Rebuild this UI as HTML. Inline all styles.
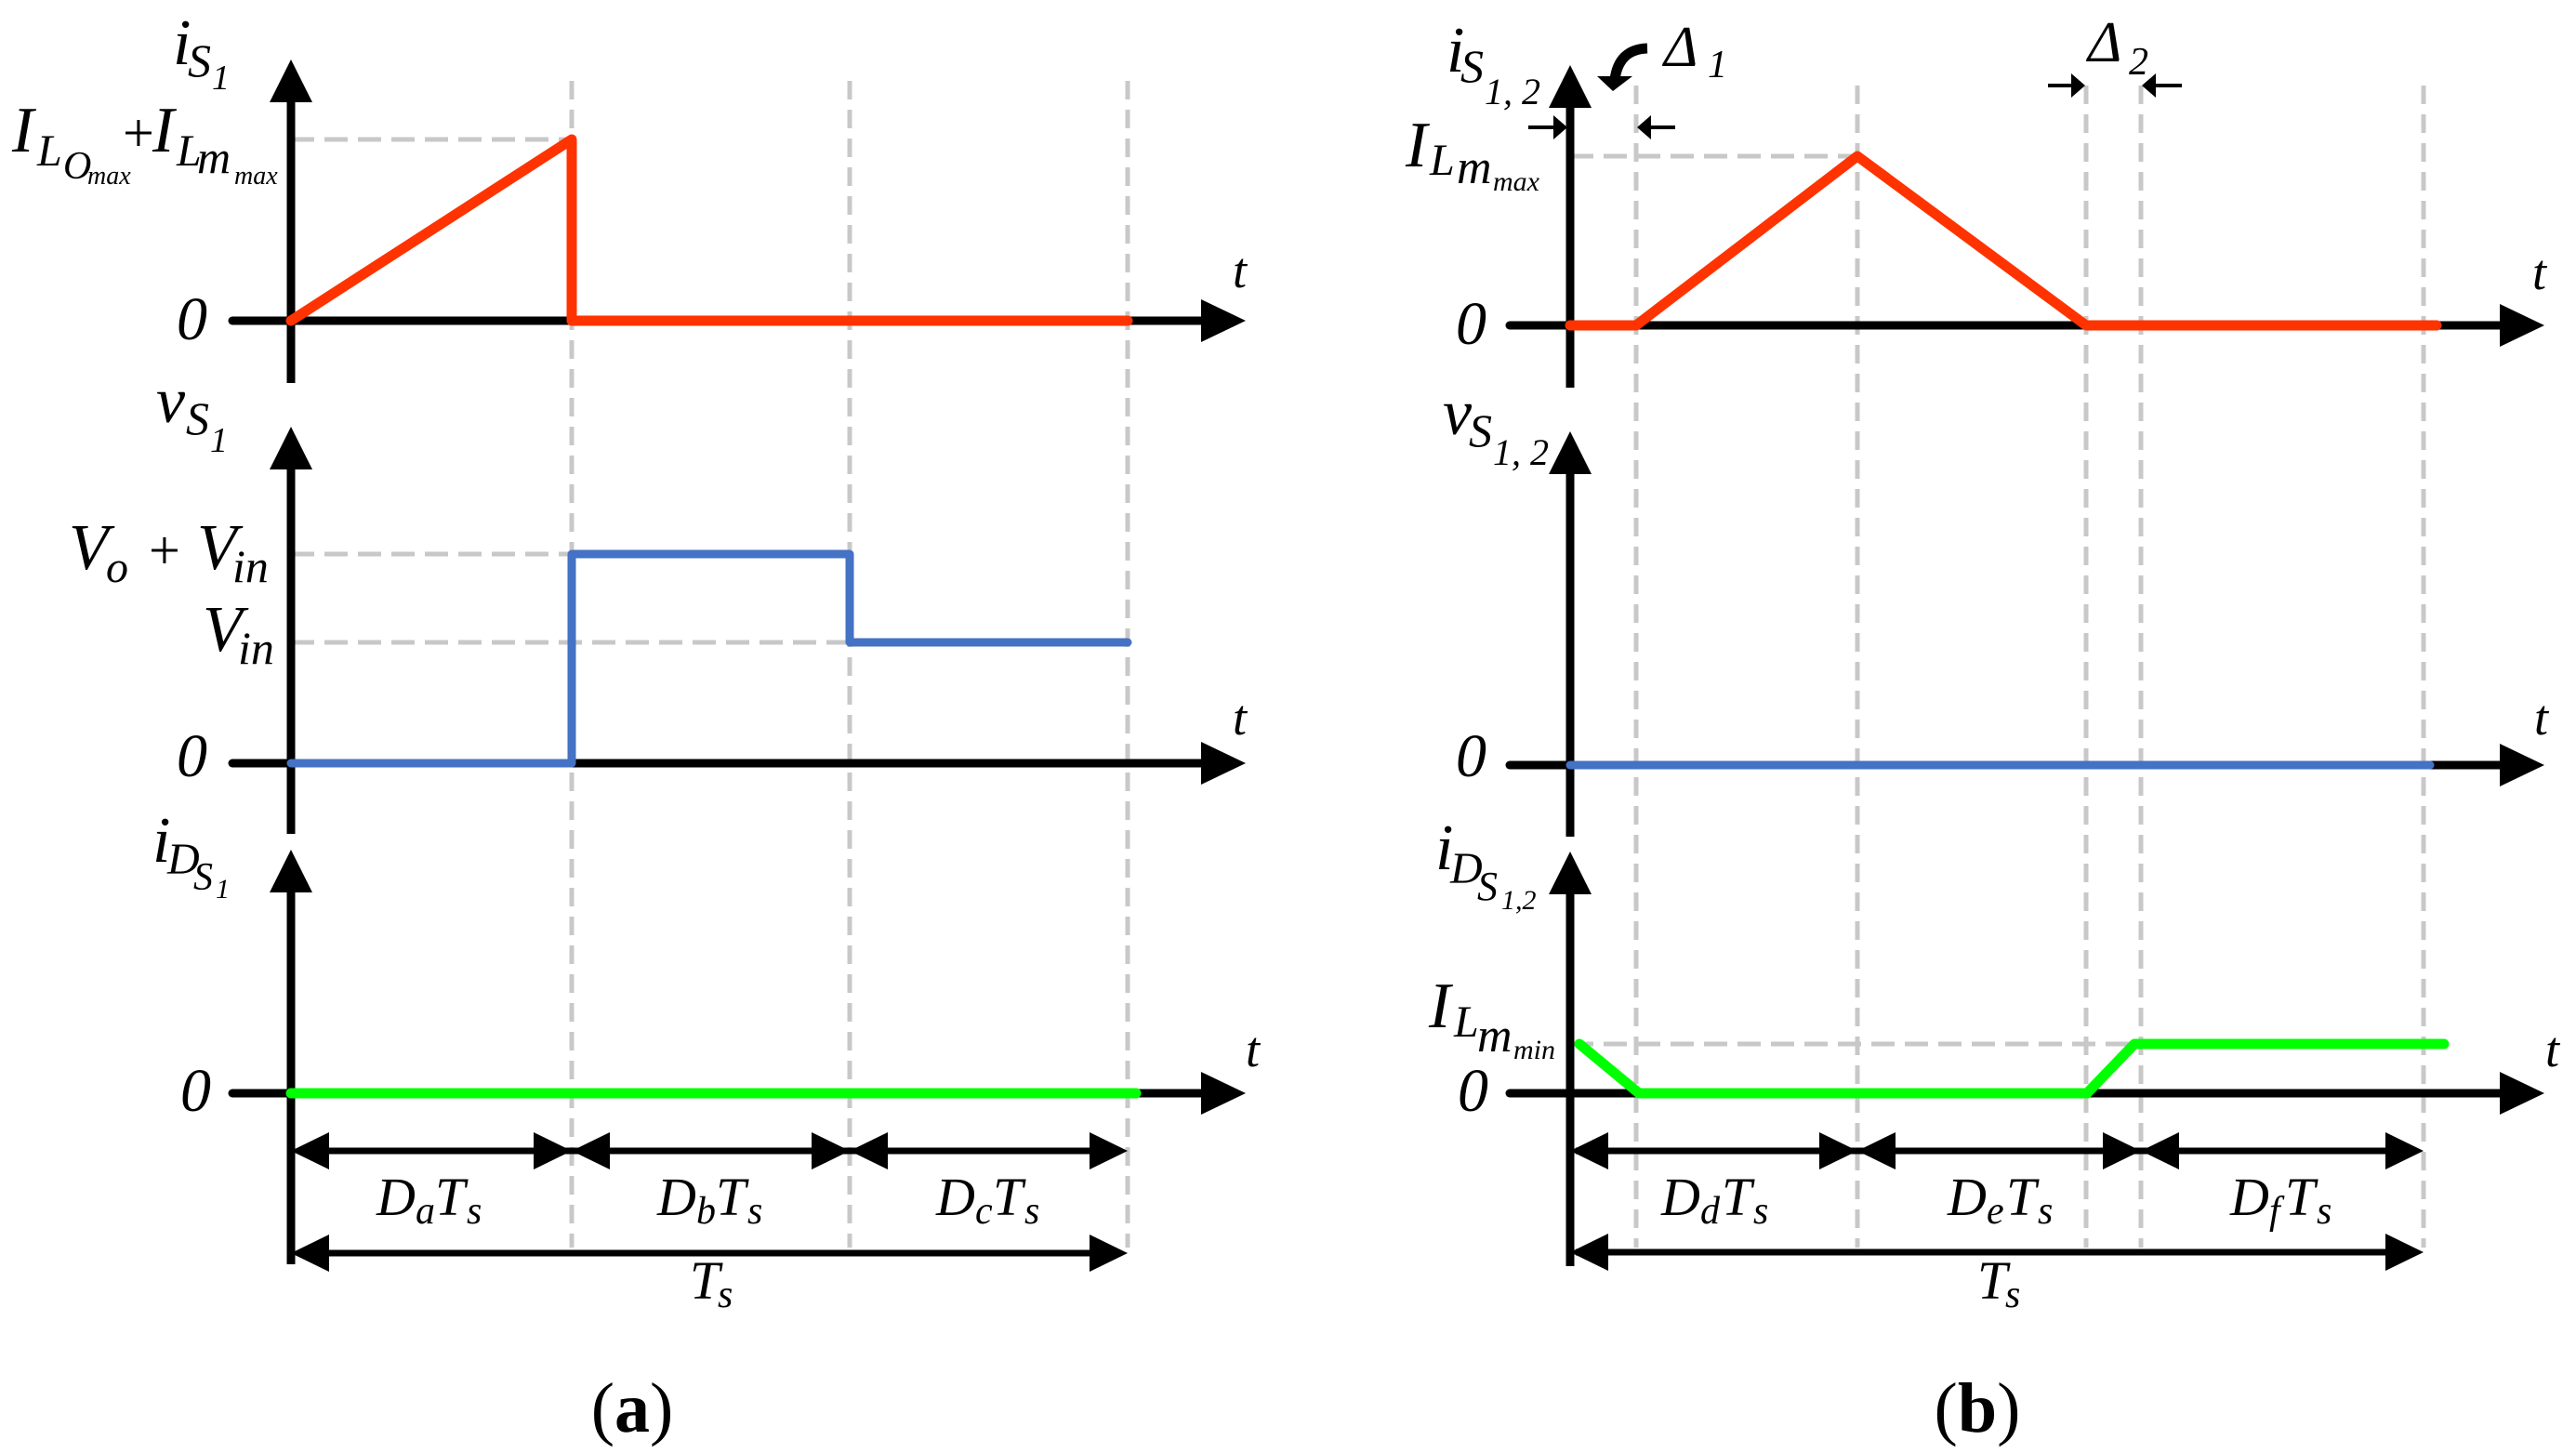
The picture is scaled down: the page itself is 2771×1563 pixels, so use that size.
<!DOCTYPE html>
<html><head><meta charset="utf-8"><style>
html,body{margin:0;padding:0;background:#fff;}
svg{display:block;}
text{font-family:"Liberation Serif","Times New Roman",serif;font-style:italic;fill:#000;}
text.n{font-style:normal;}
</style></head><body>
<svg width="2771" height="1563" viewBox="0 0 2771 1563" xmlns="http://www.w3.org/2000/svg">
<g stroke="#c8c8c8" stroke-width="5" stroke-dasharray="20,11" fill="none">
<line x1="615" y1="87" x2="615" y2="1342"/>
<line x1="914" y1="87" x2="914" y2="1342"/>
<line x1="1213" y1="87" x2="1213" y2="1342"/>
<line x1="313" y1="150" x2="615" y2="150" stroke-dasharray="25,11"/>
<line x1="313" y1="596" x2="615" y2="596" stroke-dasharray="25,11"/>
<line x1="313" y1="691" x2="914" y2="691" stroke-dasharray="25,11"/>
<line x1="1760" y1="92" x2="1760" y2="1342"/>
<line x1="1998" y1="92" x2="1998" y2="1342"/>
<line x1="2244" y1="92" x2="2244" y2="1342"/>
<line x1="2303" y1="92" x2="2303" y2="1342"/>
<line x1="2607" y1="92" x2="2607" y2="1342"/>
<line x1="1689" y1="168" x2="1998" y2="168" stroke-dasharray="25,11"/>
<line x1="1689" y1="1123" x2="2303" y2="1123" stroke-dasharray="25,11"/>
</g>
<g stroke="#000" stroke-width="9" stroke-linecap="round" fill="none">
<line x1="313" y1="105" x2="313" y2="412" stroke-linecap="butt"/>
<line x1="250" y1="345" x2="1295" y2="345"/>
<line x1="313" y1="500" x2="313" y2="897" stroke-linecap="butt"/>
<line x1="250" y1="821" x2="1295" y2="821"/>
<line x1="313" y1="955" x2="313" y2="1360" stroke-linecap="butt"/>
<line x1="250" y1="1176" x2="1295" y2="1176"/>
<line x1="1689" y1="110" x2="1689" y2="417" stroke-linecap="butt"/>
<line x1="1624" y1="350" x2="2692" y2="350"/>
<line x1="1689" y1="505" x2="1689" y2="900" stroke-linecap="butt"/>
<line x1="1624" y1="823" x2="2692" y2="823"/>
<line x1="1689" y1="957" x2="1689" y2="1362" stroke-linecap="butt"/>
<line x1="1624" y1="1176" x2="2692" y2="1176"/>
<line x1="320" y1="1238" x2="1205" y2="1238" stroke-width="7" stroke-linecap="butt"/>
<line x1="320" y1="1348" x2="1205" y2="1348" stroke-width="7" stroke-linecap="butt"/>
<line x1="1695" y1="1238" x2="2600" y2="1238" stroke-width="7" stroke-linecap="butt"/>
<line x1="1695" y1="1347" x2="2600" y2="1347" stroke-width="7" stroke-linecap="butt"/>
<line x1="1644" y1="137" x2="1675" y2="137" stroke-width="4" stroke-linecap="butt"/>
<line x1="1772" y1="137" x2="1802" y2="137" stroke-width="4" stroke-linecap="butt"/>
<line x1="2203" y1="92" x2="2233" y2="92" stroke-width="4" stroke-linecap="butt"/>
<line x1="2315" y1="92" x2="2347" y2="92" stroke-width="4" stroke-linecap="butt"/>
<path d="M1772,52 Q1741,53 1737,86" stroke-width="11" stroke-linecap="butt"/>
</g>
<g fill="#000">
<polygon points="313,64 290,110 336,110"/>
<polygon points="1340,345 1292,322 1292,368"/>
<polygon points="313,459 290,505 336,505"/>
<polygon points="1340,821 1292,798 1292,844"/>
<polygon points="313,914 290,960 336,960"/>
<polygon points="1340,1176 1292,1153 1292,1199"/>
<polygon points="1689,70 1666,116 1712,116"/>
<polygon points="2737,350 2689,327 2689,373"/>
<polygon points="1689,464 1666,510 1712,510"/>
<polygon points="2737,823 2689,800 2689,846"/>
<polygon points="1689,916 1666,962 1712,962"/>
<polygon points="2737,1176 2689,1153 2689,1199"/>
<polygon points="313,1238 354,1218 354,1258"/>
<polygon points="615,1238 574,1218 574,1258"/>
<polygon points="615,1238 656,1218 656,1258"/>
<polygon points="914,1238 873,1218 873,1258"/>
<polygon points="914,1238 955,1218 955,1258"/>
<polygon points="1213,1238 1172,1218 1172,1258"/>
<polygon points="313,1348 354,1328 354,1368"/>
<polygon points="1213,1348 1172,1328 1172,1368"/>
<polygon points="1689,1238 1730,1218 1730,1258"/>
<polygon points="1998,1238 1957,1218 1957,1258"/>
<polygon points="1998,1238 2039,1218 2039,1258"/>
<polygon points="2303,1238 2262,1218 2262,1258"/>
<polygon points="2303,1238 2344,1218 2344,1258"/>
<polygon points="2607,1238 2566,1218 2566,1258"/>
<polygon points="1689,1347 1730,1327 1730,1367"/>
<polygon points="2607,1347 2566,1327 2566,1367"/>
<polygon points="1686,137 1671,124 1671,150"/>
<polygon points="1761,137 1776,124 1776,150"/>
<polygon points="2243,92 2228,79 2228,105"/>
<polygon points="2304,92 2319,79 2319,105"/>
<polygon points="1735,98 1718,82 1756,82"/>
</g>
<g fill="none" stroke-width="11" stroke-linejoin="round" stroke-linecap="round">
<polyline points="313,345 615,150 615,345 1213,345" stroke="#FF3300"/>
<polyline points="313,821 615,821 615,596 914,596 914,691 1213,691" stroke="#4472C4" stroke-width="9"/>
<polyline points="313,1176 1222,1176" stroke="#00FF00"/>
<polyline points="1689,350 1760,350 1998,168 2244,350 2621,350" stroke="#FF3300"/>
<polyline points="1689,823 2614,823" stroke="#4472C4" stroke-width="9"/>
<polyline points="1699,1123 1763,1176 2245,1176 2296,1123 2629,1123" stroke="#00FF00"/>
</g>
<g>
<text x="186" y="69" font-size="70">i</text>
<text x="202" y="82" font-size="50">S</text>
<text x="228" y="96" font-size="38">1</text>
<text x="13" y="163" font-size="70">I</text>
<text x="40" y="178" font-size="48">L</text>
<text x="68" y="192" font-size="42">O</text>
<text x="94" y="198" font-size="28">max</text>
<text class="n" x="132" y="163" font-size="60">+</text>
<text x="164" y="163" font-size="70">I</text>
<text x="190" y="178" font-size="48">L</text>
<text x="212" y="186" font-size="50">m</text>
<text x="252" y="198" font-size="28">max</text>
<text x="190" y="365" font-size="66">0</text>
<text x="1326" y="309" font-size="54">t</text>
<text x="168" y="454" font-size="70">v</text>
<text x="200" y="467" font-size="50">S</text>
<text x="226" y="486" font-size="38">1</text>
<text x="74" y="612" font-size="70">V</text>
<text x="114" y="626" font-size="48">o</text>
<text class="n" x="160" y="612" font-size="60">+</text>
<text x="212" y="612" font-size="70">V</text>
<text x="250" y="626" font-size="50">in</text>
<text x="218" y="700" font-size="70">V</text>
<text x="256" y="714" font-size="50">in</text>
<text x="190" y="835" font-size="66">0</text>
<text x="1326" y="790" font-size="54">t</text>
<text x="164" y="927" font-size="70">i</text>
<text x="180" y="940" font-size="48">D</text>
<text x="208" y="957" font-size="42">S</text>
<text x="232" y="966" font-size="30">1</text>
<text x="194" y="1195" font-size="66">0</text>
<text x="1340" y="1147" font-size="54">t</text>
<text x="405" y="1307" font-size="58">D</text><text x="447" y="1316" font-size="42">a</text><text x="468" y="1307" font-size="58">T</text><text x="502" y="1316" font-size="42">s</text>
<text x="707" y="1307" font-size="58">D</text><text x="749" y="1316" font-size="42">b</text><text x="770" y="1307" font-size="58">T</text><text x="804" y="1316" font-size="42">s</text>
<text x="1007" y="1307" font-size="58">D</text><text x="1049" y="1316" font-size="42">c</text><text x="1068" y="1307" font-size="58">T</text><text x="1102" y="1316" font-size="42">s</text>
<text x="742" y="1397" font-size="58">T</text><text x="772" y="1406" font-size="42">s</text>
<text class="n" x="680" y="1540" font-size="76" text-anchor="middle">(<tspan font-weight="bold">a</tspan>)</text>
</g>
<g>
<text x="1556" y="77" font-size="70">i</text>
<text x="1571" y="88" font-size="50">S</text>
<text x="1597" y="112" font-size="40">1, 2</text>
<text x="1790" y="71" font-size="62">Δ</text>
<text x="1837" y="83" font-size="42">1</text>
<text x="2246" y="66" font-size="62">Δ</text>
<text x="2290" y="80" font-size="42">2</text>
<text x="1512" y="179" font-size="70">I</text>
<text x="1538" y="188" font-size="48">L</text>
<text x="1567" y="197" font-size="52">m</text>
<text x="1606" y="205" font-size="30">max</text>
<text x="1566" y="370" font-size="66">0</text>
<text x="2724" y="311" font-size="54">t</text>
<text x="1552" y="467" font-size="70">v</text>
<text x="1580" y="480" font-size="50">S</text>
<text x="1606" y="500" font-size="40">1, 2</text>
<text x="1566" y="835" font-size="66">0</text>
<text x="2726" y="790" font-size="54">t</text>
<text x="1544" y="935" font-size="70">i</text>
<text x="1560" y="950" font-size="48">D</text>
<text x="1589" y="968" font-size="44">S</text>
<text x="1615" y="978" font-size="30">1,2</text>
<text x="1537" y="1105" font-size="70">I</text>
<text x="1564" y="1115" font-size="48">L</text>
<text x="1589" y="1131" font-size="52">m</text>
<text x="1628" y="1139" font-size="30">min</text>
<text x="1568" y="1195" font-size="66">0</text>
<text x="2738" y="1147" font-size="54">t</text>
<text x="1787" y="1307" font-size="58">D</text><text x="1829" y="1316" font-size="42">d</text><text x="1852" y="1307" font-size="58">T</text><text x="1886" y="1316" font-size="42">s</text>
<text x="2095" y="1307" font-size="58">D</text><text x="2137" y="1316" font-size="42">e</text><text x="2158" y="1307" font-size="58">T</text><text x="2192" y="1316" font-size="42">s</text>
<text x="2399" y="1307" font-size="58">D</text><text x="2441" y="1316" font-size="42">f</text><text x="2458" y="1307" font-size="58">T</text><text x="2492" y="1316" font-size="42">s</text>
<text x="2127" y="1397" font-size="58">T</text><text x="2157" y="1406" font-size="42">s</text>
<text class="n" x="2127" y="1540" font-size="76" text-anchor="middle">(<tspan font-weight="bold">b</tspan>)</text>
</g>
</svg>
</body></html>
